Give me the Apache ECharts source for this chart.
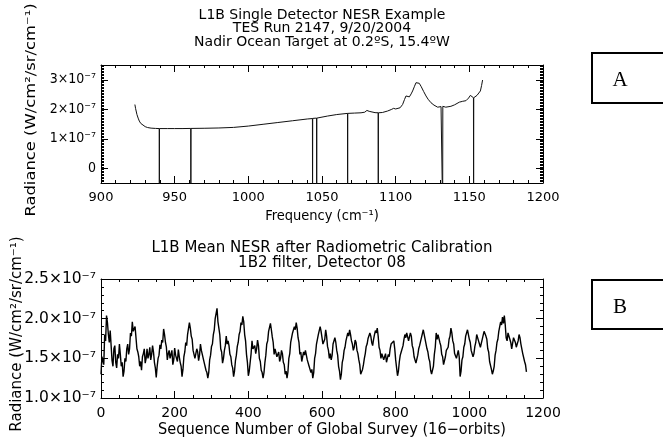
<!DOCTYPE html>
<html><head><meta charset="utf-8">
<script src="https://cdn.jsdelivr.net/npm/echarts@6/dist/echarts.min.js"></script>
<style>html,body{margin:0;padding:0;background:#fff}#c{width:663px;height:439px}</style>
</head><body><div id="c"></div><script>
const FONT = '"DejaVu Sans",sans-serif';
const FONTC = '"DejaVu Sans Condensed","DejaVu Sans",sans-serif';

// ---------- Panel A data (radiance in units of 1e-7 W/cm2/sr/cm-1) ----------
const titleA = ['L1B Single Detector NESR Example', 'TES Run 2147, 9/20/2004', 'Nadir Ocean Target at 0.2ºS, 15.4ºW'];
const freqA = [923.0,923.5,924.4,925.2,926.0,927.0,928.2,930.0,931.6,934.0,937.0,939.5,939.7,945,950,955,960.9,961.1,970,980,990,1000,1010,1020,1030,1040,1043.5,1043.7,1046.3,1046.5,1053.8,1060,1067.3,1067.5,1072,1076.5,1079,1080.5,1082,1083,1086,1088.1,1088.3,1091,1094.5,1097,1098.6,1100,1101.3,1103,1104.7,1106,1107,1108.3,1109.3,1110.5,1111.5,1112.8,1113.8,1114.9,1116,1117.2,1119,1120.6,1122,1124,1126,1128.5,1130.8,1131.8,1132.0,1134,1137.5,1140,1143.2,1145.5,1147.7,1149.5,1150.7,1152.0,1152.8,1153.0,1155.2,1156.5,1157.5,1158.3,1159];
const radA = [2.16,2.02,1.82,1.70,1.60,1.52,1.46,1.41,1.38,1.36,1.35,1.345,1.345,1.345,1.345,1.345,1.35,1.35,1.355,1.365,1.385,1.43,1.49,1.55,1.61,1.67,1.685,1.69,1.70,1.70,1.77,1.82,1.86,1.86,1.87,1.88,1.90,1.96,1.93,1.90,1.885,1.88,1.88,1.89,1.94,1.99,2.03,2.01,1.99,2.05,2.16,2.33,2.45,2.44,2.42,2.52,2.62,2.78,2.90,2.94,2.88,2.78,2.60,2.45,2.34,2.22,2.14,2.07,2.09,2.10,2.10,2.07,2.10,2.15,2.24,2.27,2.29,2.38,2.47,2.43,2.39,2.39,2.47,2.53,2.62,2.80,2.99];
const spikeFreqA = [939.6, 961.0, 1043.6, 1046.4, 1067.4, 1088.2, 1131.9, 1152.9];
const spikeValueA = -1.5;
const yTicksA = [0, 1, 2, 3];

// ---------- Panel B data ----------
const titleB = ['L1B Mean NESR after Radiometric Calibration', '1B2 filter, Detector 08'];
const seqStepB = 5; // radB at sequence numbers 0,5,10,... ; radBmid at 2.5,7.5,...
const radB = [1.30,1.50,1.80,2.04,1.80,1.85,1.47,1.62,1.45,1.55,1.68,1.40,1.27,1.50,1.62,1.55,1.82,1.96,1.86,1.76,
1.58,1.40,1.35,1.56,1.44,1.62,1.55,1.48,1.66,1.45,1.26,1.50,1.67,1.73,1.87,1.70,1.48,1.60,1.50,1.42,
1.63,1.50,1.61,1.45,1.27,1.52,1.70,1.80,1.95,1.78,1.60,1.50,1.62,1.47,1.68,1.55,1.45,1.35,1.25,1.48,
1.65,1.80,2.00,2.13,1.88,1.62,1.44,1.60,1.78,1.72,1.55,1.42,1.27,1.47,1.65,1.80,1.95,2.03,1.80,1.55,
1.28,1.45,1.72,1.60,1.56,1.73,1.50,1.35,1.25,1.45,1.68,1.84,1.94,1.77,1.55,1.60,1.52,1.46,1.60,1.45,
1.30,1.25,1.50,1.70,1.82,1.90,1.95,1.76,1.55,1.46,1.58,1.60,1.48,1.40,1.32,1.25,1.50,1.68,1.80,1.90,
1.76,1.70,1.86,1.65,1.50,1.48,1.68,1.76,1.60,1.40,1.23,1.45,1.60,1.72,1.82,1.86,1.72,1.60,1.73,1.60,
1.48,1.30,1.36,1.50,1.65,1.75,1.82,1.70,1.74,1.85,1.88,1.64,1.50,1.55,1.52,1.45,1.55,1.62,1.70,1.72,
1.48,1.28,1.46,1.58,1.66,1.80,1.82,1.72,1.82,1.66,1.52,1.44,1.54,1.66,1.76,1.86,1.74,1.62,1.50,1.35,
1.32,1.55,1.82,1.80,1.70,1.55,1.42,1.52,1.62,1.74,1.88,1.72,1.56,1.50,1.60,1.27,1.48,1.64,1.78,1.86,
1.74,1.60,1.52,1.65,1.80,1.72,1.64,1.74,1.84,1.78,1.62,1.46,1.36,1.34,1.54,1.70,1.84,1.96,2.02,2.04,
1.76,1.82,1.74,1.62,1.76,1.70,1.68,1.80,1.68,1.56,1.46,1.33];
const radBmid = [1.52,1.42,1.72,1.95,1.70,1.66,1.40,1.66,1.38,1.50,1.55,1.45,1.34,1.46,1.68,1.62,1.78,1.84,1.90,1.62,
1.52,1.46,1.52,1.62,1.50,1.50,1.64,1.55,1.58,1.38,1.40,1.54,1.62,1.70,1.80,1.64,1.56,1.50,1.60,1.48,
1.54,1.46,1.52,1.40,1.36,1.58,1.66,1.82,1.88,1.74,1.58,1.52,1.58,1.54,1.60,1.56,1.44,1.32,1.32,1.54,
1.68,1.86,1.98,1.96,1.80,1.58,1.50,1.66,1.68,1.66,1.52,1.38,1.34,1.54,1.70,1.84,1.92,1.96,1.72,1.45,
1.34,1.56,1.62,1.66,1.62,1.66,1.46,1.32,1.32,1.54,1.72,1.86,1.86,1.70,1.62,1.52,1.58,1.50,1.56,1.42,
1.34,1.33,1.56,1.72,1.80,1.86,1.88,1.70,1.58,1.52,1.54,1.62,1.50,1.42,1.36,1.32,1.56,1.70,1.82,1.84,
1.68,1.74,1.78,1.60,1.56,1.54,1.66,1.70,1.54,1.34,1.30,1.50,1.64,1.74,1.78,1.80,1.68,1.64,1.70,1.56,
1.42,1.28,1.42,1.56,1.68,1.76,1.78,1.66,1.80,1.82,1.78,1.60,1.56,1.48,1.56,1.50,1.52,1.68,1.66,1.62,
1.38,1.34,1.54,1.56,1.74,1.76,1.80,1.72,1.78,1.62,1.52,1.46,1.62,1.68,1.78,1.84,1.72,1.58,1.46,1.30,
1.40,1.64,1.74,1.78,1.66,1.52,1.44,1.60,1.64,1.78,1.82,1.68,1.56,1.50,1.52,1.34,1.52,1.68,1.80,1.84,
1.70,1.60,1.56,1.70,1.78,1.70,1.66,1.76,1.82,1.74,1.58,1.44,1.30,1.40,1.60,1.74,1.86,1.92,1.94,1.92,
1.72,1.84,1.70,1.60,1.78,1.64,1.72,1.76,1.66,1.58,1.42];
const yTicksB = [1.0, 1.5, 2.0, 2.5];

// ---------- build series data ----------
const lineA = [];
freqA.forEach((f, i) => {
  lineA.push([f, radA[i]]);
  const next = freqA[i + 1];
  spikeFreqA.forEach(s => { if (next !== undefined && s > f && s < next) lineA.push([s, spikeValueA]); });
});
const lineB = [];
radB.forEach((v, i) => {
  lineB.push([i * seqStepB, v]);
  if (i < radBmid.length) lineB.push([i * seqStepB + seqStepB / 2, radBmid[i]]);
});

const BLACK = '#000';

function xAx(grid, min, max, interval, minorSplit, pos, labels, fs) {
  return {
    type: 'value', gridIndex: grid, min, max, interval, position: pos,
    axisLine: { show: true, onZero: false, lineStyle: { color: BLACK, width: 1 } },
    axisTick: { show: true, inside: true, length: 7, lineStyle: { color: BLACK } },
    minorTick: { show: true, splitNumber: minorSplit, length: 3, lineStyle: { color: BLACK } },
    axisLabel: { show: labels, color: BLACK, fontFamily: FONT, fontSize: fs, margin: 8, formatter: v => String(v) },
    splitLine: { show: false }, minorSplitLine: { show: false }
  };
}

const supExp = '×10⁻⁷';
const option = {
  animation: false,
  backgroundColor: '#fff',
  grid: [
    { left: 101, top: 65, width: 442, height: 118 },
    { left: 101, top: 279, width: 442, height: 119 }
  ],
  xAxis: [
    xAx(0, 900, 1200, 50, 5, 'bottom', true, 13),
    xAx(0, 900, 1200, 50, 5, 'top', false, 13),
    xAx(1, 0, 1200, 200, 4, 'bottom', true, 14),
    xAx(1, 0, 1200, 200, 4, 'top', false, 14)
  ],
  yAxis: [
    { type: 'value', gridIndex: 0, min: -0.5, max: 3.5, splitNumber: 4, position: 'left',
      axisLine: { show: true, onZero: false, lineStyle: { color: BLACK } },
      axisTick: { show: true, inside: true, length: 7, lineStyle: { color: BLACK } },
      axisLabel: { color: BLACK, fontFamily: FONTC, fontSize: 14, margin: 5, showMinLabel: false, showMaxLabel: false,
        formatter: v => yTicksA.includes(v) ? (v === 0 ? '0' : v + supExp) : '' },
      splitLine: { show: false } },
    { type: 'value', gridIndex: 0, min: -0.5, max: 3.5, interval: 0.05, position: 'left',
      axisLine: { show: false }, axisTick: { show: true, inside: true, length: 3, lineStyle: { color: BLACK } },
      axisLabel: { show: false }, splitLine: { show: false } },
    { type: 'value', gridIndex: 0, min: -0.5, max: 3.5, splitNumber: 4, position: 'right',
      axisLine: { show: true, onZero: false, lineStyle: { color: BLACK } },
      axisTick: { show: true, inside: true, length: 7, lineStyle: { color: BLACK } },
      axisLabel: { show: false }, splitLine: { show: false } },
    { type: 'value', gridIndex: 0, min: -0.5, max: 3.5, interval: 0.05, position: 'right',
      axisLine: { show: false }, axisTick: { show: true, inside: true, length: 3, lineStyle: { color: BLACK } },
      axisLabel: { show: false }, splitLine: { show: false } },
    { type: 'value', gridIndex: 1, min: 1.0, max: 2.5, interval: 0.5, position: 'left',
      axisLine: { show: true, onZero: false, lineStyle: { color: BLACK } },
      axisTick: { show: true, inside: true, length: 7, lineStyle: { color: BLACK } },
      minorTick: { show: true, splitNumber: 5, length: 3, lineStyle: { color: BLACK } },
      axisLabel: { color: BLACK, fontFamily: FONT, fontSize: 15.5, margin: 5, formatter: v => v.toFixed(1) + supExp },
      splitLine: { show: false }, minorSplitLine: { show: false } },
    { type: 'value', gridIndex: 1, min: 1.0, max: 2.5, interval: 0.5, position: 'right',
      axisLine: { show: true, onZero: false, lineStyle: { color: BLACK } },
      axisTick: { show: true, inside: true, length: 7, lineStyle: { color: BLACK } },
      minorTick: { show: true, splitNumber: 5, length: 3, lineStyle: { color: BLACK } },
      axisLabel: { show: false }, splitLine: { show: false }, minorSplitLine: { show: false } }
  ],
  series: [
    { type: 'line', xAxisIndex: 0, yAxisIndex: 0, data: lineA, showSymbol: false, clip: true,
      lineStyle: { color: '#111', width: 1 } },
    { type: 'line', xAxisIndex: 2, yAxisIndex: 4, data: lineB, showSymbol: false, clip: true,
      lineStyle: { color: '#000', width: 1.4 } }
  ],
  graphic: [
    ...titleA.map((t, i) => ({ type: 'text', x: 322, y: 15 + i * 13.5,
      style: { text: t, fill: BLACK, font: `14px ${FONT}`, align: 'center', verticalAlign: 'middle' } })),
    ...titleB.map((t, i) => ({ type: 'text', x: 322, y: 248 + i * 15,
      style: { text: t, fill: BLACK, font: `15px ${FONT}`, align: 'center', verticalAlign: 'middle' } })),
    { type: 'text', x: 322, y: 216, style: { text: 'Frequency (cm⁻¹)', fill: BLACK, font: `14.5px ${FONTC}`, align: 'center', verticalAlign: 'middle' } },
    { type: 'text', x: 332, y: 430, scaleX: 0.97, style: { text: 'Sequence Number of Global Survey (16−orbits)', fill: BLACK, font: `15px ${FONT}`, align: 'center', verticalAlign: 'middle' } },
    { type: 'text', x: 31, y: 110, rotation: Math.PI / 2, scaleX: 1.17,
      style: { text: 'Radiance (W/cm²/sr/cm⁻¹)', fill: BLACK, font: `14px ${FONT}`, align: 'center', verticalAlign: 'middle' } },
    { type: 'text', x: 17, y: 334, rotation: Math.PI / 2,
      style: { text: 'Radiance (W/cm²/sr/cm⁻¹)', fill: BLACK, font: `15px ${FONT}`, align: 'center', verticalAlign: 'middle' } },
    { type: 'rect', shape: { x: 592, y: 53, width: 90, height: 50 }, style: { fill: 'none', stroke: BLACK, lineWidth: 2 } },
    { type: 'text', x: 620, y: 80, style: { text: 'A', fill: BLACK, font: '21px "Liberation Serif", serif', align: 'center', verticalAlign: 'middle' } },
    { type: 'rect', shape: { x: 592, y: 280, width: 90, height: 49 }, style: { fill: 'none', stroke: BLACK, lineWidth: 2 } },
    { type: 'text', x: 620, y: 307, style: { text: 'B', fill: BLACK, font: '21px "Liberation Serif", serif', align: 'center', verticalAlign: 'middle' } }
  ]
};
const chart = echarts.init(document.getElementById('c'), null, { renderer: 'canvas' });
chart.setOption(option);
</script></body></html>
